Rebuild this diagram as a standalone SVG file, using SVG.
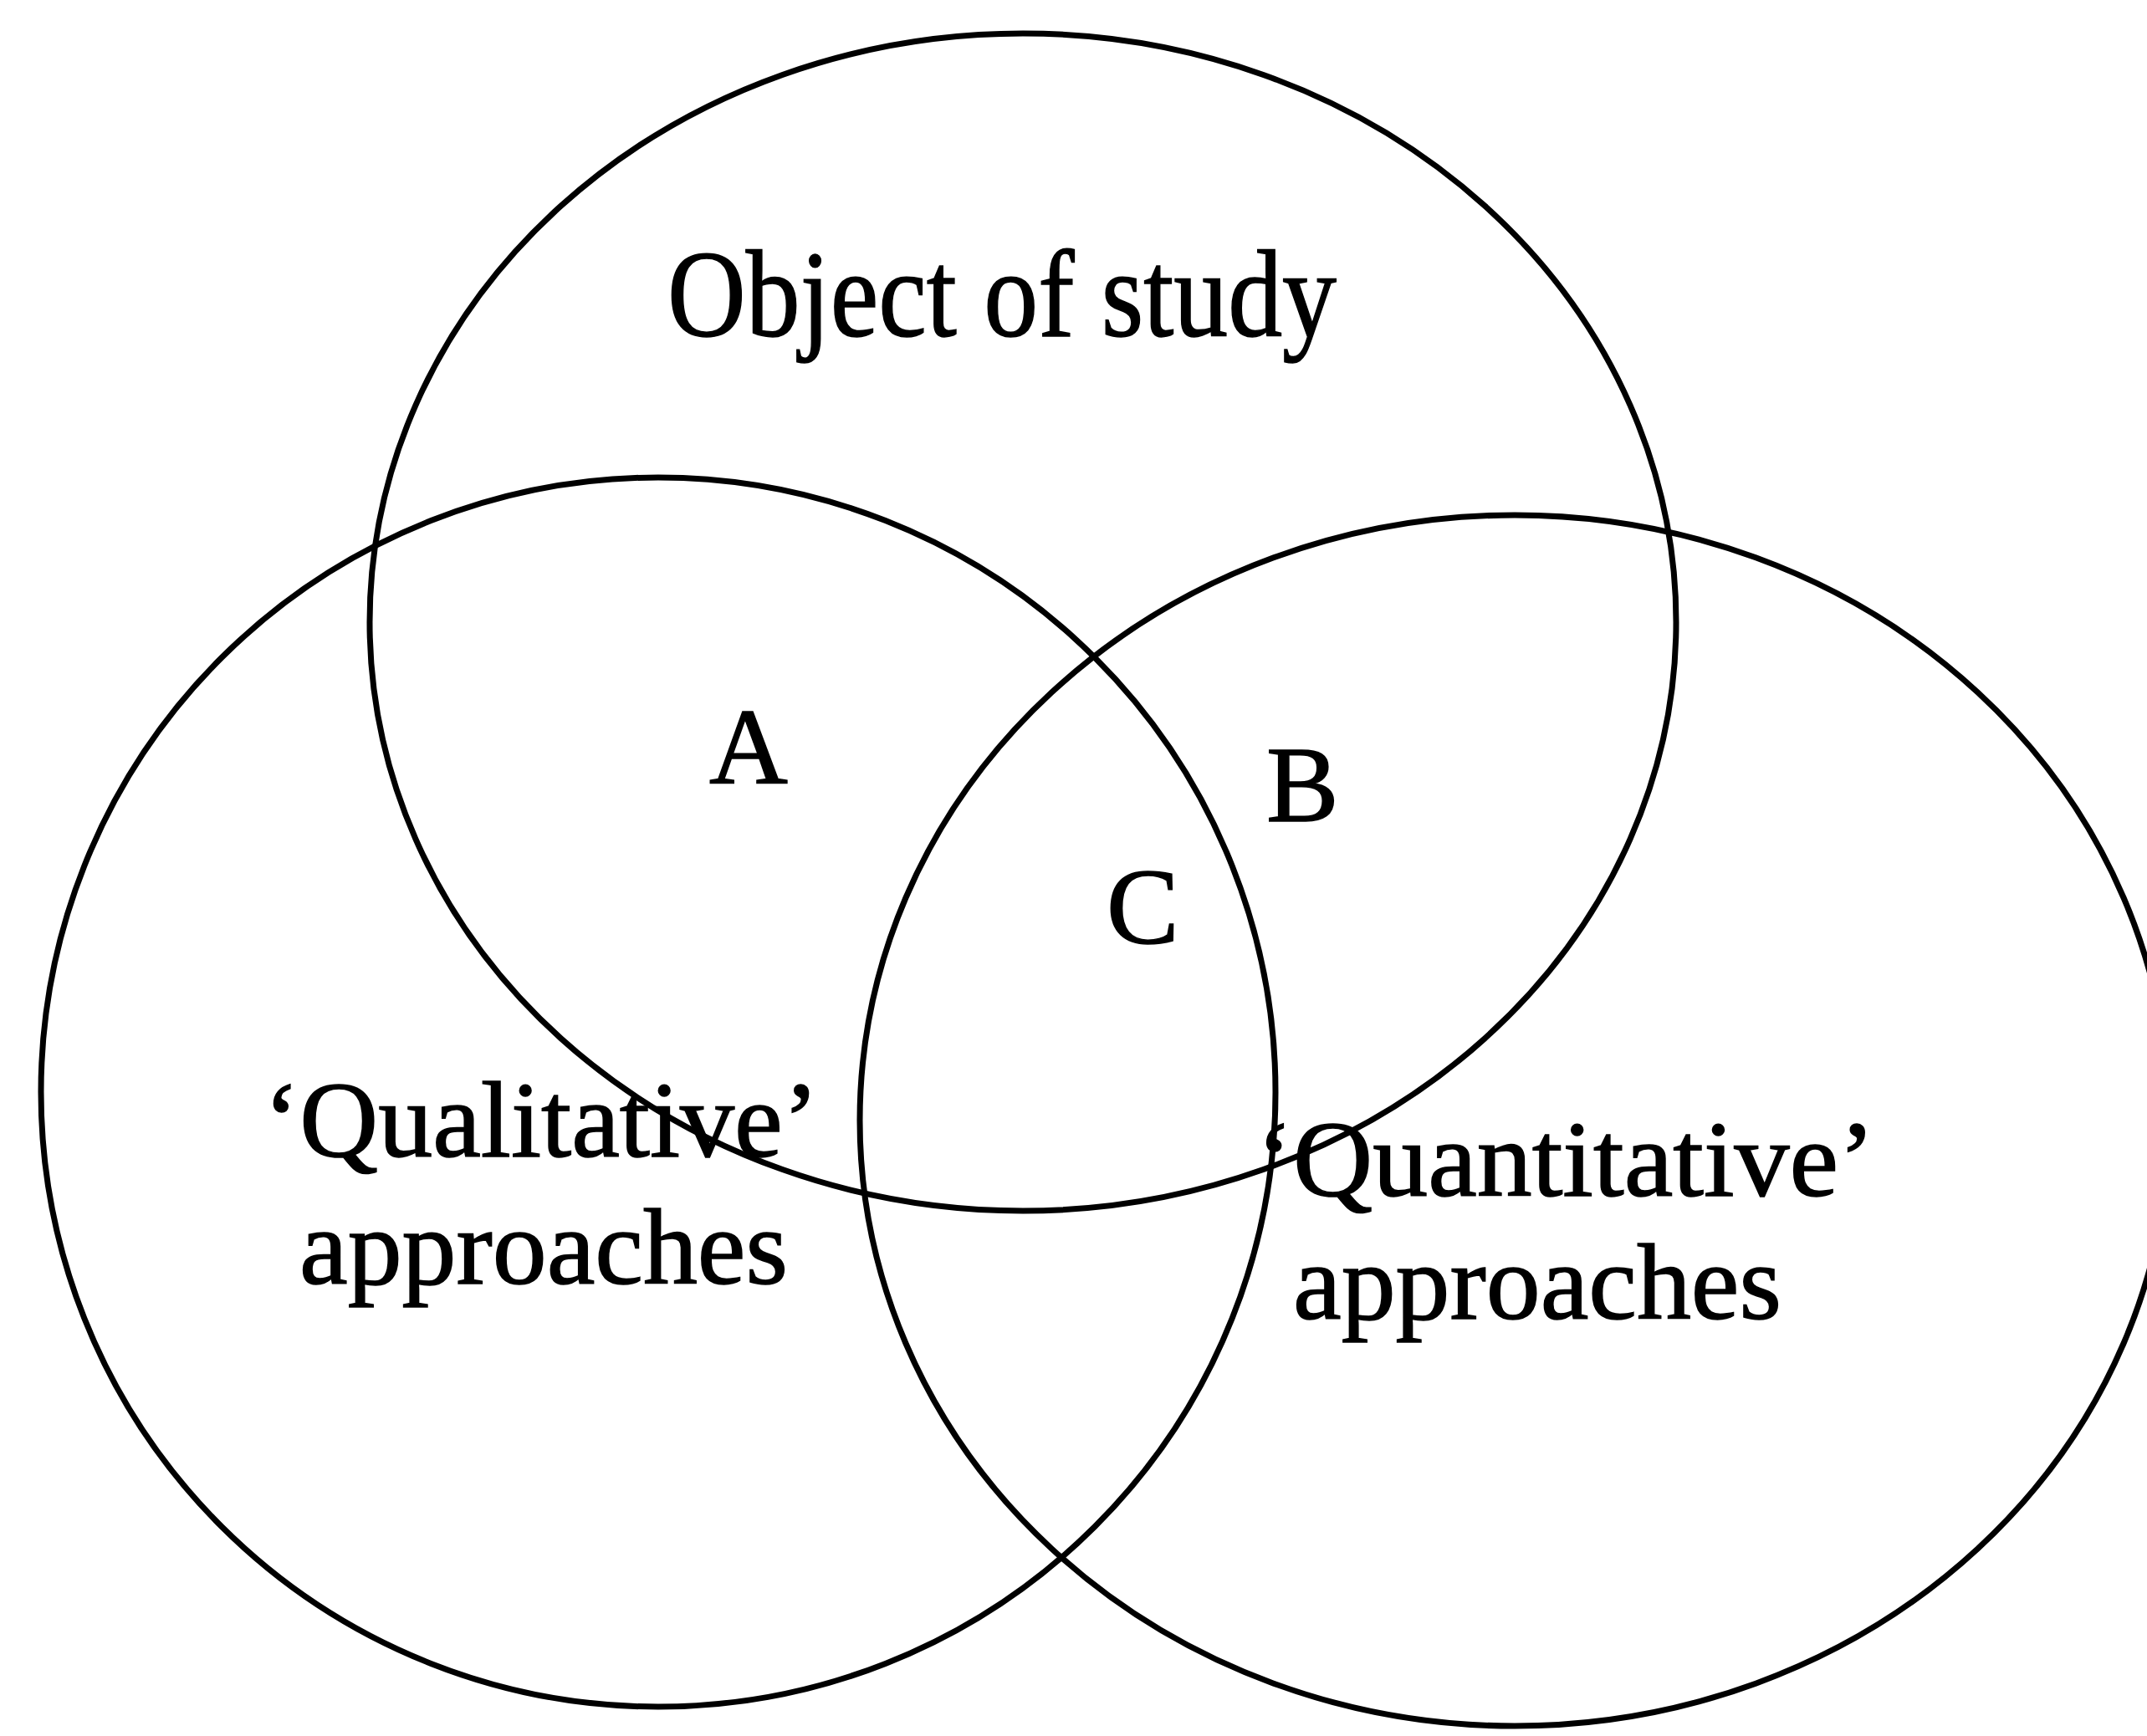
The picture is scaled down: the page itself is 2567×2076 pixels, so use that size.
<svg xmlns="http://www.w3.org/2000/svg" width="2567" height="2076" viewBox="0 0 2567 2076">
<style>
.c{fill:none;stroke:#000;stroke-width:7}
.t{font-family:"Liberation Serif","Times New Roman",serif;font-size:130px;fill:#000;stroke:#000;stroke-width:1.5}
</style>
<rect width="2567" height="2076" fill="#fff"/>
<g id="connectors"></g>
<g id="object-of-study">
<ellipse class="c" cx="1223" cy="744" rx="781" ry="704"/>
<text class="t" x="798" y="402" style="font-size:148px" textLength="800" lengthAdjust="spacingAndGlyphs">Object of study</text>
</g>
<g id="qualitative">
<ellipse class="c" cx="787" cy="1306" rx="738" ry="735"/>
<text class="t" x="315" y="1383" textLength="664" lengthAdjust="spacingAndGlyphs">‘Qualitative’</text>
<text class="t" x="358" y="1535" textLength="584" lengthAdjust="spacingAndGlyphs">approaches</text>
</g>
<g id="quantitative">
<ellipse class="c" cx="1811" cy="1340" rx="783" ry="724"/>
<text class="t" x="1502" y="1430" textLength="740" lengthAdjust="spacingAndGlyphs">‘Quantitative’</text>
<text class="t" x="1546" y="1577" textLength="584" lengthAdjust="spacingAndGlyphs">approaches</text>
</g>
<g id="label-A"><text class="t" x="848" y="937">A</text></g>
<g id="label-B"><text class="t" x="1514" y="982">B</text></g>
<g id="label-C"><text class="t" x="1323" y="1128">C</text></g>
</svg>
